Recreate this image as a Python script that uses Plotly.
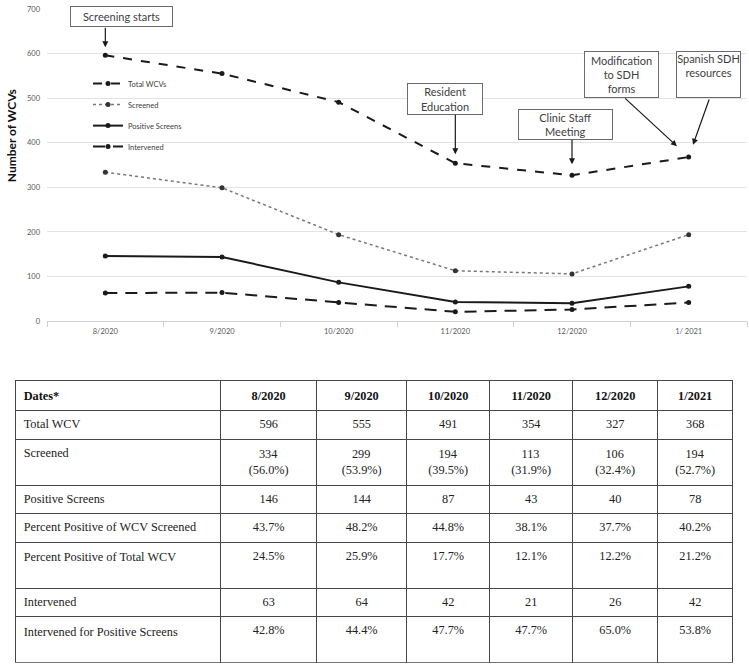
import plotly.graph_objects as go

# ---------------- data ----------------
dates = ["8/2020", "9/2020", "10/2020", "11/2020", "12/2020", "1/2021"]
axis_labels = ["8/2020", "9/2020", "10/2020", "11/2020", "12/2020", "1/ 2021"]
total_wcv = [596, 555, 491, 354, 327, 368]
screened = [334, 299, 194, 113, 106, 194]
screened_pct = ["56.0%", "53.9%", "39.5%", "31.9%", "32.4%", "52.7%"]
positive = [146, 144, 87, 43, 40, 78]
pct_pos_screened = ["43.7%", "48.2%", "44.8%", "38.1%", "37.7%", "40.2%"]
pct_pos_total = ["24.5%", "25.9%", "17.7%", "12.1%", "12.2%", "21.2%"]
intervened = [63, 64, 42, 21, 26, 42]
interv_pos = ["42.8%", "44.4%", "47.7%", "47.7%", "65.0%", "53.8%"]

row_labels = ["Total WCV", "Screened", "Positive Screens", "Percent Positive of WCV Screened",
              "Percent Positive of Total WCV", "Intervened", "Intervened for Positive Screens"]
y_ticks = [0, 100, 200, 300, 400, 500, 600, 700]

W, H = 749, 668
def px(x): return x / W
def py(y): return 1 - y / H

CHART_FONT = "Lato"
fig = go.Figure()

series = [
    ("Total WCVs", total_wcv, dict(color="#1a1a1a", width=2, dash="dash"), "#1a1a1a"),
    ("Screened", screened, dict(color="#777777", width=1.5, dash="dot"), "#333333"),
    ("Positive Screens", positive, dict(color="#1a1a1a", width=2, dash="solid"), "#1a1a1a"),
    ("Intervened", intervened, dict(color="#1a1a1a", width=2, dash="12px,8px"), "#1a1a1a"),
]
for i, (name, vals, line, mc) in enumerate(series):
    fig.add_trace(go.Scatter(
        x=axis_labels, y=vals, name=name, mode="lines+markers",
        line=line, marker=dict(size=5, color=mc), legendgroup=f"g{i}",
        xaxis="x", yaxis="y"))

# ---------------- table ----------------
PAD = "\u2007&nbsp;\u200a"   # centres the short first line over the wider second line
col0 = row_labels[:]
col0[4] = col0[4] + "<br>&nbsp;"
col0[6] = col0[6] + "<br>&nbsp;"
cols = [col0]
for j in range(6):
    cols.append([
        str(total_wcv[j]),
        f"{PAD}{screened[j]}<br>({screened_pct[j]})",
        str(positive[j]),
        pct_pos_screened[j],
        pct_pos_total[j],
        str(intervened[j]),
        interv_pos[j],
    ])

TFONT = 12.3
fig.add_trace(go.Table(
    domain=dict(x=[px(15.7), px(733.5)], y=[0, py(382)]),
    columnwidth=[205, 96, 90, 83, 83, 85, 75],
    header=dict(
        values=["<b>Dates*</b>"] + [f"<b>{d}</b>" for d in dates],
        align=["left"] + ["center"] * 6,
        line=dict(color="#474747", width=1.2),
        fill=dict(color="white"),
        font=dict(family="Liberation Serif", size=TFONT, color="#111111"),
        height=28.5,
    ),
    cells=dict(
        values=cols,
        align=["left"] + ["center"] * 6,
        line=dict(color="#474747", width=1.2),
        fill=dict(color="white"),
        font=dict(family="Liberation Serif", size=TFONT, color="#222222"),
        height=28.5,
    ),
))

# ---------------- annotations ----------------
ann = []
box_style = dict(xref="paper", yref="paper", showarrow=False, xanchor="center", yanchor="middle",
                 bordercolor="#6b6b6b", borderwidth=1, borderpad=0, bgcolor="white",
                 font=dict(family=CHART_FONT, size=11, color="#404040"))
boxes = [
    ("Screening starts", 121, 13, 101, 19, "middle"),
    ("Resident<br>Education", 444.5, 96, 74, 30, "middle"),
    ("Clinic Staff<br>Meeting", 565, 122, 93, 29, "middle"),
    ("Modification<br>to SDH<br>forms", 621, 71, 73, 45, "middle"),
    ("Spanish SDH<br>resources", 708, 71, 63, 45, "top"),
]
for text, cx, cy, w, h, va in boxes:
    d = dict(box_style)
    d.update(text=text, x=px(cx), y=py(cy), width=w, height=h, valign=va)
    ann.append(d)

arrows = [
    (0, total_wcv[0], 0, -29, 8),
    (3, total_wcv[3], 0, -50, 9),
    (4, total_wcv[4], 0, -37, 11),
    (5, total_wcv[5], -65, -60, 16),
    (5, total_wcv[5], 21, -59, 13),
]
for ci, val, ax, ay, so in arrows:
    ann.append(dict(xref="x", yref="y", x=axis_labels[ci], y=val, ax=ax, ay=ay, text="",
                    showarrow=True, arrowhead=2, arrowsize=1, arrowwidth=1.2,
                    arrowcolor="#1a1a1a", standoff=so))

ann.append(dict(xref="paper", yref="paper", x=px(11), y=py(134), text="<b>Number of WCVs</b>",
                textangle=-90, showarrow=False, xanchor="center", yanchor="middle",
                font=dict(family=CHART_FONT, size=12, color="#111111")))

fig.update_layout(
    width=W, height=H,
    margin=dict(l=0, r=0, t=0, b=0),
    paper_bgcolor="white", plot_bgcolor="white",
    annotations=ann,
    showlegend=True,
    legend=dict(x=px(88), y=py(66), xanchor="left", yanchor="top",
                font=dict(family=CHART_FONT, size=7.5, color="#404040"),
                bgcolor="rgba(0,0,0,0)", itemwidth=30, tracegroupgap=2),
    xaxis=dict(domain=[px(47), px(747)], type="category", range=[-0.5, 5.5],
               showgrid=False, showline=True, linecolor="#d0d0d0", linewidth=1,
               ticks="outside", tickson="boundaries", ticklen=5, tickcolor="#d0d0d0",
               ticklabelstandoff=3,
               tickfont=dict(family=CHART_FONT, size=7.5, color="#595959"),
               anchor="y", fixedrange=True),
    yaxis=dict(domain=[py(321.5), py(5)], range=[0, 700], tickvals=y_ticks,
               showgrid=True, gridcolor="#e3e3e3", gridwidth=1, zeroline=False,
               showline=False, ticks="", ticklabelstandoff=6,
               tickfont=dict(family=CHART_FONT, size=7.5, color="#595959"),
               anchor="x", fixedrange=True),
)

fig.write_html(
    "out.html",
    config={"displayModeBar": False},
    post_script="document.body.style.margin='0';document.body.style.overflow='hidden';",
)
